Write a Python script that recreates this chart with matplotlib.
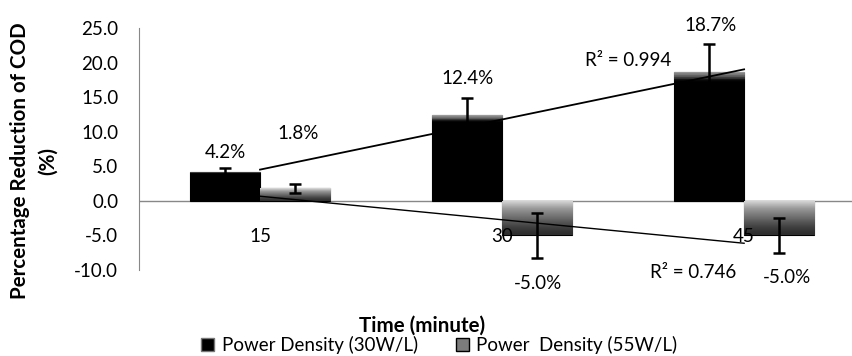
import numpy as np
import matplotlib
matplotlib.use("Agg")
import matplotlib.pyplot as plt
from matplotlib.patches import Patch
from matplotlib.colors import LinearSegmentedColormap

plt.rcParams['font.family'] = ['Lato', 'DejaVu Sans']

categories = ["15", "30", "45"]
series_names = ["Power Density (30W/L)", "Power  Density (55W/L)"]
vals_30 = [4.2, 12.4, 18.7]
vals_55 = [1.8, -5.0, -5.0]
err_30 = [0.6, 2.5, 4.0]
err_55 = [0.7, 3.2, 2.5]
r2_labels = ["R² = 0.994", "R² = 0.746"]
yticks = [-10, -5, 0, 5, 10, 15, 20, 25]

FS = 13.5

fig = plt.figure(figsize=(8.53, 3.56), dpi=100)
ax = fig.add_axes([0.163, 0.2416, 0.837, 0.6798])

x = np.arange(len(categories))
w = 0.29
b1 = ax.bar(x - w / 2, vals_30, w, color='black', zorder=2)
b2 = ax.bar(x + w / 2, vals_55, w, color='#7c7c7c', zorder=2)

# bevel-like gradients
cm_dark = LinearSegmentedColormap.from_list('d', ['#000000', '#000000', '#5a5a5a', '#9a9a9a'])
cm_grey = LinearSegmentedColormap.from_list('g', ['#2e2e2e', '#6a6a6a', '#9a9a9a', '#dcdcdc'])
grad = np.linspace(0, 1, 64).reshape(-1, 1)
for bars, cm in ((b1, cm_dark), (b2, cm_grey)):
    for r in bars:
        x0, y0, ww, hh = r.get_x(), r.get_y(), r.get_width(), r.get_height()
        ylo, yhi = min(y0, y0 + hh), max(y0, y0 + hh)
        if cm is cm_dark:
            g = np.clip((grad - 0.9) / 0.1, 0, 1)
        else:
            g = grad ** 1.5
        im = ax.imshow(g, cmap=cm, vmin=0, vmax=1, aspect='auto', origin='lower',
                       extent=[x0, x0 + ww, ylo, yhi], zorder=2.5)
        im.set_clip_path(r)
        r.set_edgecolor('black')
        r.set_linewidth(0.8)

ax.errorbar(x - w / 2, vals_30, yerr=err_30, fmt='none', ecolor='black',
            elinewidth=1.8, capsize=4.5, capthick=1.8, zorder=4)
ax.errorbar(x + w / 2, vals_55, yerr=err_55, fmt='none', ecolor='black',
            elinewidth=1.8, capsize=4.5, capthick=1.8, zorder=4)

# linear trendlines over category positions 1..3
xt = np.arange(1, len(categories) + 1)
for vals, lw in ((vals_30, 1.3), (vals_55, 1.0)):
    p = np.polyfit(xt, vals, 1)
    fit = np.polyval(p, xt)
    ax.plot(x[[0, -1]], fit[[0, -1]], color='black', lw=lw, zorder=5)

ax.text(1.52, 20.3, r2_labels[0], fontsize=FS, ha='center', va='center', zorder=6)
ax.text(1.79, -10.4, r2_labels[1], fontsize=FS, ha='center', va='center', zorder=6,
        clip_on=False)

# data labels
lab_pos_30 = [(-0.144, 6.95), (0.856, 17.7), (1.86, 25.3)]
lab_pos_55 = [(0.156, 9.7), (1.148, -12.0), (2.177, -11.1)]
for v, (lx, ly) in zip(vals_30, lab_pos_30):
    ax.text(lx, ly, f"{v:.1f}%", fontsize=FS, ha='center', va='center', zorder=6,
            clip_on=False)
for v, (lx, ly) in zip(vals_55, lab_pos_55):
    ax.text(lx, ly, f"{v:.1f}%", fontsize=FS, ha='center', va='center', zorder=6,
            clip_on=False)

# category labels sit low
for xi, c in zip(x, categories):
    ax.text(xi, -5.1, c, fontsize=FS, ha='center', va='center', zorder=6)

ax.set_xlim(-0.5, 2.45)
ax.set_ylim(-10, 25)
ax.set_yticks(yticks)
ax.set_yticklabels([f"{t:.1f}" for t in yticks], fontsize=FS)
ax.tick_params(axis='y', length=0, pad=15)
ax.set_xticks([])
for s in ('top', 'right', 'bottom'):
    ax.spines[s].set_visible(False)
ax.spines['left'].set_color('#888888')
ax.axhline(0, color='#888888', lw=1, zorder=1)

fig.text(34 / 853, 0.548, "Percentage Reduction of COD\n(%)", fontsize=14.8,
         fontweight='bold', rotation=90, ha='center', va='center', linespacing=1.5,
         multialignment='center')
fig.text(0.4947, 0.084, "Time (minute)", fontsize=14.8, fontweight='bold',
         ha='center', va='center')

handles = [Patch(facecolor='black', edgecolor='#777777'),
           Patch(facecolor='#7c7c7c', edgecolor='black')]
fig.legend(handles, series_names, loc='center', bbox_to_anchor=(0.515, 0.031), ncol=2,
           frameon=False, fontsize=FS, handlelength=0.7, handleheight=0.7,
           handletextpad=0.4, columnspacing=2.0, borderaxespad=0, borderpad=0)

fig.savefig("out.png", dpi=100)
